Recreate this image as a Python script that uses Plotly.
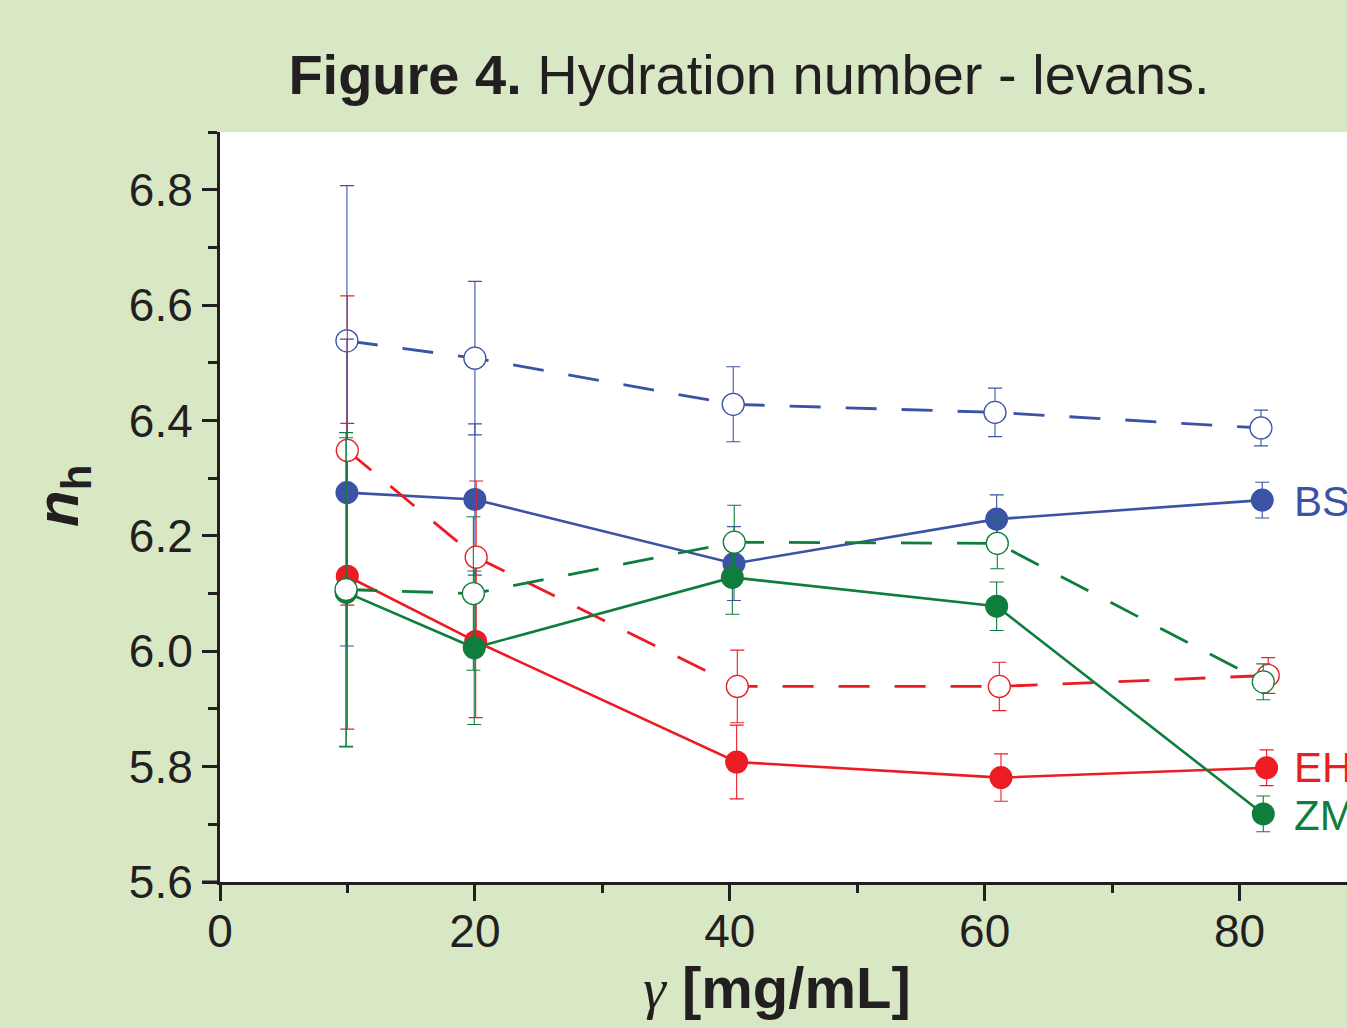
import plotly.graph_objects as go

# Hydration number n_h of three levans vs. concentration (filled = one set, open = other set)
bs_filled_x = [9.96, 20.0, 40.33, 60.94, 81.78]
bs_filled_y = [6.275, 6.263, 6.152, 6.229, 6.262]
bs_filled_err = [0.266, 0.131, 0.064, 0.042, 0.031]

bs_open_x = [9.96, 20.0, 40.27, 60.81, 81.68]
bs_open_y = [6.538, 6.508, 6.428, 6.414, 6.387]
bs_open_err = [0.269, 0.133, 0.065, 0.042, 0.031]

eh_filled_x = [9.99, 20.06, 40.54, 61.28, 82.12]
eh_filled_y = [6.130, 6.017, 5.808, 5.781, 5.798]
eh_filled_err = [0.265, 0.132, 0.064, 0.041, 0.031]

eh_open_x = [9.99, 20.1, 40.59, 61.15, 82.25]
eh_open_y = [6.348, 6.163, 5.939, 5.939, 5.958]
eh_open_err = [0.268, 0.132, 0.063, 0.042, 0.031]

zm_filled_x = [9.9, 19.95, 40.20, 60.94, 81.86]
zm_filled_y = [6.102, 6.006, 6.128, 6.078, 5.718]
zm_filled_err = [0.268, 0.133, 0.064, 0.042, 0.031]

zm_open_x = [9.89, 19.88, 40.35, 60.99, 81.86]
zm_open_y = [6.107, 6.100, 6.189, 6.187, 5.947]
zm_open_err = [0.272, 0.133, 0.064, 0.044, 0.031]

series_labels = ["BS", "EH", "ZM"]
label_y = [6.26, 5.798, 5.715]

BLUE = "#3a53a4"
RED = "#ed1c24"
GREEN = "#0f7e3d"
INK = "#231f20"
BG = "#d8e8c5"


def err_style(color, vals):
    return dict(type="data", array=vals, visible=True, color=color,
                thickness=1.1, width=7)


def filled(x, y, err, color):
    return go.Scatter(
        x=x, y=y, mode="lines+markers",
        line=dict(color=color, width=2.6),
        marker=dict(symbol="circle", size=23, color=color, line=dict(width=0)),
        error_y=err_style(color, err), showlegend=False, hoverinfo="x+y")


def hollow(x, y, err, color):
    return go.Scatter(
        x=x, y=y, mode="lines+markers",
        line=dict(color=color, width=2.8, dash="31px,25px"),
        marker=dict(symbol="circle", size=22, color="white",
                    line=dict(color=color, width=1.3)),
        error_y=err_style(color, err), showlegend=False, hoverinfo="x+y")


fig = go.Figure()
fig.add_trace(hollow(bs_open_x, bs_open_y, bs_open_err, BLUE))
fig.add_trace(filled(bs_filled_x, bs_filled_y, bs_filled_err, BLUE))
fig.add_trace(filled(eh_filled_x, eh_filled_y, eh_filled_err, RED))
fig.add_trace(hollow(eh_open_x, eh_open_y, eh_open_err, RED))
fig.add_trace(filled(zm_filled_x, zm_filled_y, zm_filled_err, GREEN))
fig.add_trace(hollow(zm_open_x, zm_open_y, zm_open_err, GREEN))

# series labels at the right end of the solid curves
for name, yv, col in zip(series_labels, label_y, [BLUE, RED, GREEN]):
    fig.add_annotation(x=84.1, y=yv, xref="x", yref="y", text=name,
                       showarrow=False, xanchor="left", yanchor="middle",
                       font=dict(family="Liberation Sans, Arial", size=42, color=col))

# axis titles
fig.add_annotation(
    x=(62 - 220) / 1127, y=(882 - 496) / 750, xref="paper", yref="paper",
    text="<b><i>n</i></b><sub><b>h</b></sub>", textangle=-90, showarrow=False,
    xanchor="center", yanchor="middle",
    font=dict(family="Liberation Sans, Arial", size=60, color=INK))
fig.add_annotation(
    x=(777 - 220) / 1127, y=(882 - 988) / 750, xref="paper", yref="paper",
    text="<span style='font-family:Liberation Serif'><i>γ</i></span> <b>[mg/mL]</b>",
    showarrow=False, xanchor="center", yanchor="middle",
    font=dict(family="Liberation Sans, Arial", size=58, color=INK))

# short extension of the x axis line left of the y axis
fig.add_shape(type="line", xref="paper", yref="paper", x0=-0.016, x1=0, y0=0, y1=0,
              line=dict(color=INK, width=3))

fig.update_layout(
    width=1347, height=1028,
    margin=dict(l=220, r=0, t=132, b=146, pad=0),
    paper_bgcolor=BG, plot_bgcolor="white",
    title=dict(text="<b>Figure 4.</b> Hydration number - levans.",
               x=749 / 1347, xref="container", xanchor="center",
               y=1 - 74 / 1028, yref="container", yanchor="middle",
               font=dict(family="Liberation Sans, Arial", size=56, color=INK)),
    font=dict(family="Liberation Sans, Arial", color=INK),
)

fig.update_xaxes(
    range=[0, 88.43], tick0=0, dtick=20, showgrid=False, zeroline=False,
    showline=True, linewidth=3, linecolor=INK,
    ticks="outside", ticklen=16, tickwidth=2.5, tickcolor=INK,
    ticklabelstandoff=-9,
    tickfont=dict(size=46, color=INK),
    minor=dict(dtick=10, tick0=0, ticks="outside", ticklen=8, tickwidth=2.5, tickcolor=INK),
)
fig.update_yaxes(
    range=[5.6, 6.9], tick0=5.6, dtick=0.2, tickformat=".1f",
    showgrid=False, zeroline=False,
    showline=True, linewidth=3, linecolor=INK,
    ticks="outside", ticklen=15, tickwidth=2.5, tickcolor=INK,
    tickfont=dict(size=46, color=INK),
    minor=dict(dtick=0.1, tick0=5.6, ticks="outside", ticklen=9, tickwidth=2.5, tickcolor=INK),
)

fig.write_html("out.html")
